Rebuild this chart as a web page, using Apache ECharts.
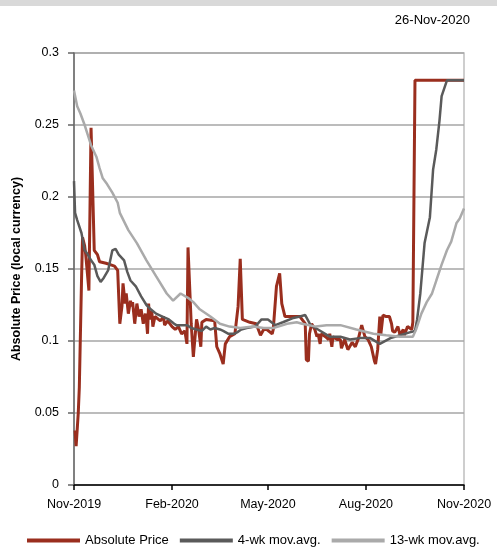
<!DOCTYPE html>
<html>
<head>
<meta charset="utf-8">
<script src="https://cdn.jsdelivr.net/npm/echarts@6/dist/echarts.min.js"></script>
<style>
html,body{margin:0;padding:0;background:#fff;}
#band{position:absolute;left:0;top:0;width:497px;height:6px;background:#d9d9d9;}
#chart{position:absolute;left:0;top:0;width:497px;height:548px;}
</style>
</head>
<body>
<div id="band"></div>
<div id="chart"></div>
<script>
const reportDate = '26-Nov-2020';
const yAxisTitle = 'Absolute Price (local currency)';
const seriesNames = ['Absolute Price', '4-wk mov.avg.', '13-wk mov.avg.'];
const xTickDates = ['2019-11-01', '2020-02-01', '2020-05-01', '2020-08-01', '2020-11-01'];
const yTicks = [0, 0.05, 0.1, 0.15, 0.2, 0.25, 0.3];

const priceDates = ['2019-11-02','2019-11-03','2019-11-05','2019-11-06','2019-11-08','2019-11-09','2019-11-11','2019-11-12','2019-11-15','2019-11-17','2019-11-20','2019-11-23','2019-11-25','2019-12-01','2019-12-05','2019-12-09','2019-12-12',
'2019-12-14','2019-12-16','2019-12-17','2019-12-19','2019-12-20','2019-12-22','2019-12-24','2019-12-25','2019-12-26','2019-12-28','2019-12-30','2020-01-01','2020-01-03','2020-01-05','2020-01-07','2020-01-08','2020-01-09','2020-01-10','2020-01-11','2020-01-13','2020-01-14','2020-01-16','2020-01-21','2020-01-24','2020-01-25','2020-01-28','2020-02-01','2020-02-04','2020-02-07','2020-02-10','2020-02-13','2020-02-15',
'2020-02-16','2020-02-19','2020-02-21','2020-02-24','2020-02-26','2020-02-28','2020-02-29','2020-03-04','2020-03-12','2020-03-14','2020-03-17','2020-03-20','2020-03-22','2020-03-26','2020-03-31','2020-04-03','2020-04-05','2020-04-07','2020-04-14','2020-04-20','2020-04-24','2020-04-27','2020-04-30','2020-05-05','2020-05-06','2020-05-09','2020-05-12','2020-05-14','2020-05-17','2020-05-20','2020-05-28','2020-05-31',
'2020-06-05','2020-06-06','2020-06-08','2020-06-09','2020-06-11','2020-06-14','2020-06-16','2020-06-17','2020-06-19','2020-06-20','2020-06-24','2020-06-27','2020-06-28','2020-06-30','2020-07-01','2020-07-05','2020-07-08','2020-07-09','2020-07-12','2020-07-15','2020-07-19','2020-07-22','2020-07-25','2020-07-28','2020-07-31','2020-08-03','2020-08-06','2020-08-09','2020-08-10','2020-08-12','2020-08-14','2020-08-15','2020-08-17','2020-08-20','2020-08-23','2020-08-25','2020-08-26','2020-08-28','2020-08-31','2020-09-02','2020-09-05','2020-09-06','2020-09-09','2020-09-13','2020-09-14','2020-09-15','2020-09-16','2020-11-01'];
const priceValues = [0.038,0.027,0.05,0.068,0.14,0.172,0.166,0.16,0.135,0.248,0.163,0.16,0.155,0.154,0.153,0.152,0.149,
0.112,0.124,0.14,0.126,0.133,0.119,0.128,0.124,0.127,0.112,0.126,0.117,0.122,0.112,0.119,0.114,0.105,0.126,0.115,0.121,0.11,0.117,0.114,0.117,0.111,0.114,0.11,0.108,0.11,0.105,0.107,0.098,
0.165,0.112,0.089,0.115,0.108,0.096,0.113,0.115,0.114,0.096,0.091,0.084,0.098,0.103,0.105,0.124,0.157,0.115,0.113,0.112,0.104,0.108,0.108,0.105,0.108,0.138,0.147,0.126,0.117,0.117,0.117,0.117,
0.112,0.087,0.086,0.105,0.112,0.108,0.103,0.105,0.098,0.105,0.103,0.101,0.105,0.096,0.103,0.101,0.101,0.095,0.101,0.094,0.099,0.096,0.102,0.111,0.103,0.101,0.096,0.086,0.084,0.094,0.117,0.105,0.118,0.117,0.117,0.112,0.107,0.106,0.11,0.104,0.108,0.104,0.11,0.108,0.113,0.112,0.281,0.281];

const ma4Dates = ['2019-11-01','2019-11-02','2019-11-04','2019-11-08','2019-11-11','2019-11-14','2019-11-17','2019-11-20','2019-11-23','2019-11-26','2019-11-29','2019-12-03','2019-12-07','2019-12-10','2019-12-13','2019-12-18','2019-12-21','2019-12-24','2019-12-29','2020-01-03','2020-01-08','2020-01-12','2020-01-17','2020-01-23','2020-01-29','2020-02-03','2020-02-05','2020-02-15','2020-02-19','2020-02-29','2020-03-04','2020-03-08','2020-03-12','2020-03-17','2020-03-20','2020-03-25','2020-03-30','2020-04-02','2020-04-06','2020-04-11','2020-04-19','2020-04-25','2020-05-01','2020-05-08','2020-05-15','2020-05-25','2020-05-31','2020-06-05','2020-06-10','2020-06-17','2020-06-28','2020-07-08','2020-07-17','2020-07-26','2020-08-05','2020-08-14','2020-08-24','2020-09-02','2020-09-11','2020-09-16','2020-09-18','2020-09-21','2020-09-25','2020-09-30','2020-10-03','2020-10-06','2020-10-09','2020-10-11','2020-10-16','2020-11-01'];
const ma4Values = [0.211,0.189,0.184,0.175,0.163,0.16,0.156,0.153,0.145,0.141,0.144,0.149,0.163,0.164,0.16,0.156,0.148,0.142,0.138,0.131,0.125,0.122,0.119,0.117,0.115,0.112,0.111,0.111,0.109,0.107,0.11,0.108,0.109,0.108,0.107,0.105,0.105,0.106,0.108,0.109,0.11,0.115,0.115,0.111,0.113,0.116,0.117,0.118,0.111,0.108,0.103,0.103,0.101,0.102,0.102,0.098,0.102,0.104,0.106,0.107,0.115,0.133,0.168,0.186,0.219,0.233,0.253,0.27,0.281,0.281];

const ma13Dates = ['2019-11-01','2019-11-04','2019-11-07','2019-11-11','2019-11-14','2019-11-17','2019-11-22','2019-11-25','2019-11-28','2019-12-02','2019-12-07','2019-12-12','2019-12-14','2019-12-22','2019-12-30','2020-01-08','2020-01-17','2020-01-27','2020-02-02','2020-02-09','2020-02-16','2020-02-21','2020-02-27','2020-03-08','2020-03-17','2020-03-26','2020-04-05','2020-04-17','2020-04-27','2020-05-06','2020-05-19','2020-05-28','2020-06-02','2020-06-15','2020-06-25','2020-07-08','2020-07-23','2020-08-08','2020-08-20','2020-09-02','2020-09-14','2020-09-17','2020-09-22','2020-09-27','2020-10-02','2020-10-06','2020-10-11','2020-10-16','2020-10-20','2020-10-25','2020-10-28','2020-11-01'];
const ma13Values = [0.274,0.263,0.258,0.25,0.243,0.236,0.228,0.22,0.213,0.209,0.203,0.196,0.189,0.177,0.168,0.156,0.145,0.133,0.128,0.133,0.13,0.127,0.122,0.117,0.112,0.11,0.109,0.11,0.109,0.109,0.112,0.113,0.112,0.11,0.111,0.111,0.108,0.105,0.104,0.103,0.103,0.108,0.119,0.127,0.133,0.142,0.153,0.163,0.169,0.182,0.185,0.192];

const colors = ['#9a2e1e', '#5a5a5a', '#aaaaaa'];
const months = ['Jan','Feb','Mar','Apr','May','Jun','Jul','Aug','Sep','Oct','Nov','Dec'];
const ts = s => { const p = s.split('-').map(Number); return Date.UTC(p[0], p[1]-1, p[2]); };
const pairs = (d, v) => d.map((x, i) => [ts(x), v[i]]);
const tickTs = xTickDates.map(ts);

const chart = echarts.init(document.getElementById('chart'), null, {renderer: 'canvas'});
const font = 'Liberation Sans, Arial, sans-serif';
chart.setOption({
  animation: false,
  textStyle: {fontFamily: font},
  title: {
    text: reportDate, right: 22, top: 9,
    textStyle: {fontSize: 13, fontWeight: 'normal', color: '#000', fontFamily: font}
  },
  grid: {left: 74, right: 33, top: 53, bottom: 63, show: true, borderColor: '#bfbfbf', borderWidth: 1.5, backgroundColor: 'transparent'},
  legend: {
    bottom: -4, left: 22,
    itemWidth: 53, itemHeight: 4, itemGap: 11, icon: 'rect',
    textStyle: {fontSize: 13, color: '#000', fontFamily: font},
    data: seriesNames
  },
  xAxis: {
    type: 'value',
    min: tickTs[0], max: tickTs[tickTs.length - 1],
    axisLine: {show: true, lineStyle: {color: '#000', width: 1.5}},
    axisTick: {show: true, customValues: tickTs, length: 5, lineStyle: {color: '#000', width: 1.5}},
    axisLabel: {
      customValues: tickTs, color: '#000', fontSize: 12.5, margin: 13, fontFamily: font,
      formatter: v => { const d = new Date(v); return months[d.getUTCMonth()] + '-' + d.getUTCFullYear(); }
    },
    splitLine: {show: false}
  },
  yAxis: {
    type: 'value', min: yTicks[0], max: yTicks[yTicks.length - 1], interval: 0.05,
    name: yAxisTitle, nameLocation: 'middle', nameGap: 51, nameRotate: 90,
    nameTextStyle: {fontSize: 12.5, fontWeight: 'bold', color: '#000', fontFamily: font},
    axisLine: {show: true, lineStyle: {color: '#666', width: 1.5}},
    axisTick: {show: true, length: 6, lineStyle: {color: '#666', width: 1.5}},
    axisLabel: {color: '#000', fontSize: 12.5, margin: 15, fontFamily: font, formatter: v => String(+v.toFixed(2))},
    splitLine: {show: true, lineStyle: {color: '#a6a6a6', width: 1.5}}
  },
  series: [
    {name: seriesNames[0], type: 'line', data: pairs(priceDates, priceValues), showSymbol: false, symbol: 'none',
     lineStyle: {color: colors[0], width: 3}, itemStyle: {color: colors[0]}},
    {name: seriesNames[1], type: 'line', data: pairs(ma4Dates, ma4Values), showSymbol: false, symbol: 'none',
     lineStyle: {color: colors[1], width: 2.5}, itemStyle: {color: colors[1]}},
    {name: seriesNames[2], type: 'line', data: pairs(ma13Dates, ma13Values), showSymbol: false, symbol: 'none',
     lineStyle: {color: colors[2], width: 2.5}, itemStyle: {color: colors[2]}}
  ]
});
</script>
</body>
</html>
